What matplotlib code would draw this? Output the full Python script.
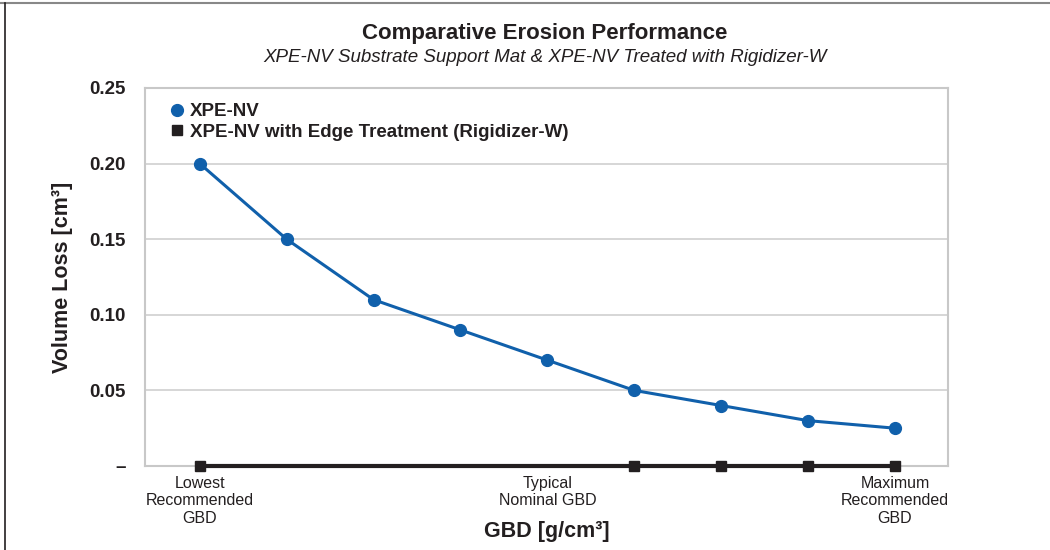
import numpy as np
import matplotlib.pyplot as plt
from matplotlib.lines import Line2D

# data
positions = list(range(9))
xpe_nv = [0.20, 0.15, 0.11, 0.09, 0.07, 0.05, 0.04, 0.03, 0.025]
xpe_nv_edge = [0, 0, 0, 0, 0, 0, 0, 0, 0]
edge_markers = [0, 5, 6, 7, 8]
tick_pos = [0, 4, 8]
tick_labels = ['Lowest\nRecommended\nGBD', 'Typical\nNominal GBD', 'Maximum\nRecommended\nGBD']
y_ticks = [0, 0.05, 0.10, 0.15, 0.20, 0.25]
y_labels = ['–', '0.05', '0.10', '0.15', '0.20', '0.25']

BLUE = '#1060ab'
BLACK = '#231f20'
plt.rcParams['font.family'] = ['Liberation Sans', 'DejaVu Sans']


def main():
    fig = plt.figure(figsize=(10.5, 5.5), dpi=100)
    ax = fig.add_axes([145 / 1050, 1 - 466 / 550, 803 / 1050, 378 / 550])

    ax.plot(positions, xpe_nv_edge, c=BLACK, lw=3, marker='s', ms=7,
            markevery=edge_markers, zorder=3, clip_on=False)
    ax.plot(positions, xpe_nv, c=BLUE, lw=2.2, marker='o', ms=8.5, zorder=4, clip_on=False)

    ax.set_xlim(-0.63, 8.61)
    ax.set_ylim(0, 0.25)
    ax.set_yticks(y_ticks)
    ax.set_yticklabels(y_labels, fontsize=13.5, fontweight='bold', color=BLACK)
    ax.set_xticks(tick_pos)
    ax.set_xticklabels(tick_labels, fontsize=11.5, color=BLACK, linespacing=1.2)
    ax.tick_params(axis='both', length=0)
    ax.tick_params(axis='y', pad=14)
    ax.tick_params(axis='x', pad=7)
    ax.grid(axis='y', c='#cfcfcf', lw=1.2)
    for s in ax.spines.values():
        s.set_color('#c8c8c8')
        s.set_linewidth(1.5)

    ax.set_ylabel('Volume Loss [cm³]', fontsize=15.5, fontweight='bold', color=BLACK, labelpad=12)
    ax.set_xlabel('GBD [g/cm³]', fontsize=15.5, fontweight='bold', color=BLACK, labelpad=-3)

    fig.text(545 / 1050, 1 - 34 / 550, 'Comparative Erosion Performance',
             ha='center', va='center', fontsize=16, fontweight='bold', color=BLACK)
    fig.text(545 / 1050, 1 - 58 / 550, 'XPE-NV Substrate Support Mat & XPE-NV Treated with Rigidizer-W',
             ha='center', va='center', fontsize=13.5, style='italic', color=BLACK)

    handles = [Line2D([], [], ls='', marker='o', ms=8.5, c=BLUE),
               Line2D([], [], ls='', marker='s', ms=7, c=BLACK)]
    ax.legend(handles, ['XPE-NV', 'XPE-NV with Edge Treatment (Rigidizer-W)'],
              loc='upper left', bbox_to_anchor=(0.005, 1.005), frameon=False,
              prop={'weight': 'bold', 'size': 13.5}, handletextpad=0.1,
              handlelength=1.2, labelspacing=0.2, labelcolor=BLACK)

    # outer box pieces (top and left)
    fig.add_artist(Line2D([0, 1], [1 - 3 / 550, 1 - 3 / 550], c='#888888', lw=1.5))
    fig.add_artist(Line2D([5 / 1050, 5 / 1050], [0, 1 - 3 / 550], c=BLACK, lw=1.2))

    fig.savefig('out.png', dpi=100)


if __name__ == "__main__":
    main()
